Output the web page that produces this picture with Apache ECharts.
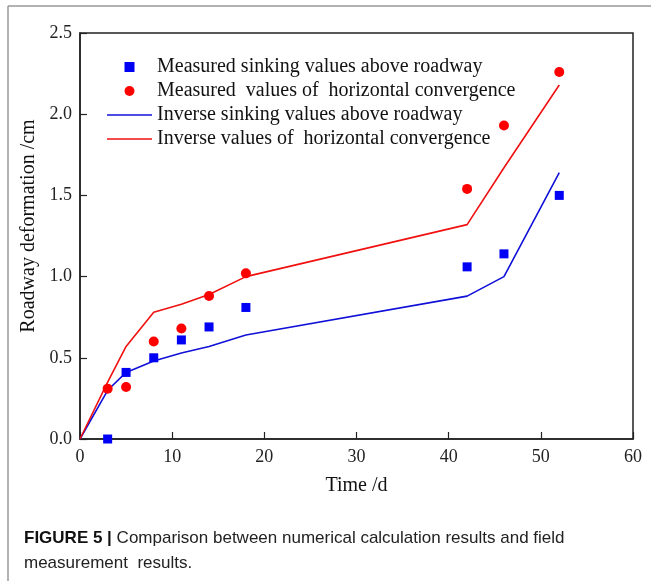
<!DOCTYPE html>
<html>
<head>
<meta charset="utf-8">
<script src="https://cdn.jsdelivr.net/npm/echarts@6/dist/echarts.min.js"></script>
<style>
  html, body { margin: 0; padding: 0; background: #fff; }
  #main { width: 651px; height: 581px; }
</style>
</head>
<body>
<div id="main"></div>
<script>
// measured points (day -> cm)
var measuredDays = [3, 5, 8, 11, 14, 18, 42, 46, 52];
var measuredSinking = [0.00, 0.41, 0.50, 0.61, 0.69, 0.81, 1.06, 1.14, 1.50];
var measuredConvergence = [0.31, 0.32, 0.60, 0.68, 0.88, 1.02, 1.54, 1.93, 2.26];

// inverse (calculated) curves
var inverseDays = [0, 3, 5, 8, 11, 14, 18, 42, 46, 52];
var inverseSinking = [0, 0.30, 0.41, 0.48, 0.53, 0.57, 0.64, 0.88, 1.00, 1.64];
var inverseConvergence = [0, 0.35, 0.57, 0.78, 0.83, 0.89, 1.00, 1.32, 1.67, 2.18];

var seriesNames = [
    'Measured sinking values above roadway',
    'Measured  values of  horizontal convergence',
    'Inverse sinking values above roadway',
    'Inverse values of  horizontal convergence'
];

function pairUp(xs, ys) {
    var out = [];
    for (var i = 0; i < xs.length; i++) {
        out.push([xs[i], ys[i]]);
    }
    return out;
}

var serif = '"Liberation Serif", "DejaVu Serif", serif';
var sans = '"Liberation Sans", Arial, sans-serif';

// legend icons: path icons keep their aspect, builtin 'rect' would stretch
var squareIcon = 'path://M0,0H10V10H0Z';
var lineIcon = 'path://M0,0H45V1.6H0Z';

var chart = echarts.init(document.getElementById('main'));
var option = {
    animation: false,
    backgroundColor: '#fff',
    title: {
        left: 19,
        top: 521,
        text: '{b|FIGURE 5 |}{r| Comparison between numerical calculation results and field}\n{r|measurement  results.}',
        textStyle: {
            rich: {
                b: { fontFamily: sans, fontWeight: 'bold', fontSize: 17, color: '#111', lineHeight: 25 },
                r: { fontFamily: sans, fontWeight: 'normal', fontSize: 17, color: '#222', lineHeight: 25 }
            }
        }
    },
    graphic: [
        { type: 'line', shape: { x1: 8, y1: 6, x2: 8, y2: 581 }, style: { stroke: '#999', lineWidth: 1.5 } },
        { type: 'line', shape: { x1: 8, y1: 6, x2: 651, y2: 6 }, style: { stroke: '#999', lineWidth: 1.5 } }
    ],
    legend: {
        orient: 'vertical',
        left: 107,
        top: 57,
        padding: 0,
        itemWidth: 45,
        itemHeight: 10,
        itemGap: 4,
        textStyle: { fontFamily: serif, fontSize: 20, color: '#111', lineHeight: 20 },
        data: [
            { name: seriesNames[0], icon: squareIcon, itemStyle: { opacity: 1 } },
            { name: seriesNames[1], icon: 'circle', itemStyle: { opacity: 1 } },
            { name: seriesNames[2], icon: lineIcon },
            { name: seriesNames[3], icon: lineIcon }
        ]
    },
    grid: {
        left: 80,
        right: 18,
        top: 33,
        bottom: 142,
        show: true,
        borderColor: '#222',
        borderWidth: 1.5
    },
    xAxis: {
        type: 'value',
        min: 0,
        max: 60,
        interval: 10,
        name: 'Time /d',
        nameLocation: 'middle',
        nameGap: 37,
        nameTextStyle: { fontFamily: serif, fontSize: 20, color: '#111' },
        axisLine: { lineStyle: { color: '#222', width: 1.5 } },
        axisTick: { inside: true, length: 7, lineStyle: { color: '#222', width: 1.2 } },
        axisLabel: { fontFamily: serif, fontSize: 18, color: '#222', margin: 9 },
        splitLine: { show: false }
    },
    yAxis: {
        type: 'value',
        min: 0,
        max: 2.5,
        interval: 0.5,
        name: 'Roadway deformation /cm',
        nameLocation: 'middle',
        nameGap: 34,
        nameTextStyle: { fontFamily: serif, fontSize: 20, color: '#111', padding: [0, 0, 0, 20] },
        axisLine: { lineStyle: { color: '#222', width: 1.5 } },
        axisTick: { inside: true, length: 7, lineStyle: { color: '#222', width: 1.2 } },
        axisLabel: {
            fontFamily: serif, fontSize: 18, color: '#222', margin: 8,
            formatter: function (v) { return v.toFixed(1); }
        },
        splitLine: { show: false }
    },
    series: [
        {
            name: seriesNames[0],
            type: 'scatter',
            symbol: 'rect',
            symbolSize: 9,
            itemStyle: { color: '#0000f5', opacity: 1 },
            data: pairUp(measuredDays, measuredSinking),
            z: 3
        },
        {
            name: seriesNames[1],
            type: 'scatter',
            symbol: 'circle',
            symbolSize: 10,
            itemStyle: { color: '#ff0000', opacity: 1 },
            data: pairUp(measuredDays, measuredConvergence),
            z: 3
        },
        {
            name: seriesNames[2],
            type: 'line',
            symbol: 'none',
            lineStyle: { color: '#1010d8', width: 1.6 },
            itemStyle: { color: '#1010d8' },
            data: pairUp(inverseDays, inverseSinking)
        },
        {
            name: seriesNames[3],
            type: 'line',
            symbol: 'none',
            lineStyle: { color: '#f01010', width: 1.6 },
            itemStyle: { color: '#f01010' },
            data: pairUp(inverseDays, inverseConvergence)
        }
    ]
};
chart.setOption(option);
</script>
</body>
</html>
